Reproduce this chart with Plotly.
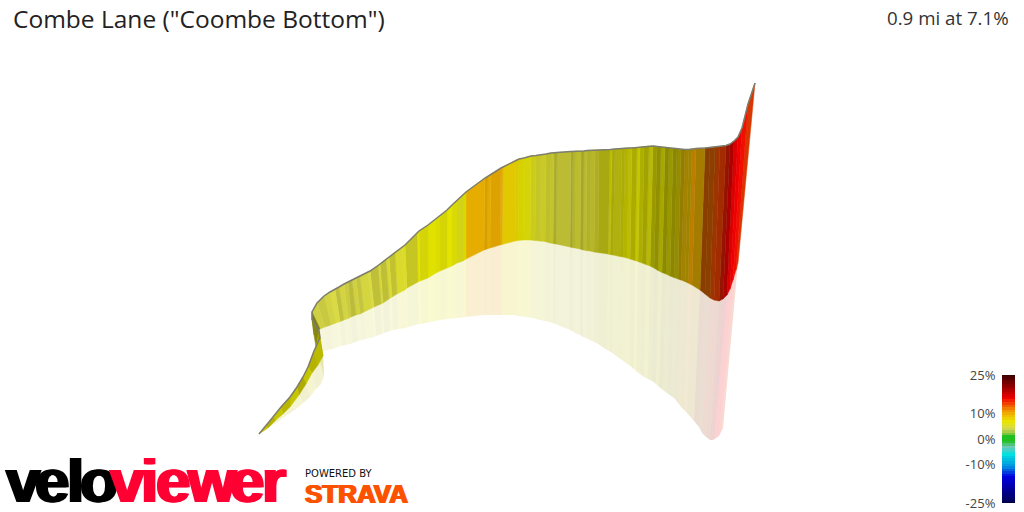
import numpy as np
import plotly.graph_objects as go

title_text = 'Combe Lane ("Coombe Bottom")'
stats_text = "0.9 mi at 7.1%"

# ribbon stations: road edge, foot of the wall, foot of the reflection
top_x = [259, 266, 273, 281, 290, 297, 303, 308, 314, 320, 319, 312,
         312, 317, 324, 330, 335, 339, 344, 348, 352, 356, 360, 368, 370, 378, 380, 386, 389, 395, 402, 405, 417, 419, 428, 436, 440, 447, 452, 457, 463, 466, 485, 488, 491, 501, 503, 516, 519, 524, 531, 536, 541, 546, 551, 554, 557, 571, 573, 576, 581, 584, 587, 591, 595, 599, 610, 612, 615, 622, 625, 629, 632, 637, 640, 644, 649, 653, 657, 661, 665, 669, 673, 677, 681, 685, 689, 692, 696, 705, 710, 715, 720, 726, 730, 734, 738, 742, 748, 755]
top_y = [434, 426, 417, 407, 397, 387, 377, 367, 351, 338, 331, 319,
         312, 303, 296, 292, 289.5, 287, 284, 282, 280, 278, 276, 272, 271, 265.5, 264, 259, 257, 252, 247, 245, 233, 231, 225, 219, 216, 210, 205, 200, 195, 192, 178, 176, 174, 168, 167, 160, 159, 158, 156, 155.5, 155, 154, 153, 153, 152.5, 151.5, 151.5, 151, 151, 151, 150.5, 150.5, 150, 150, 149.5, 149.5, 149, 148.5, 148, 148, 148, 147.5, 147, 146.5, 146, 146, 146.5, 147, 147.5, 148, 148.5, 149, 149.5, 149.5, 149.5, 149, 148.5, 148, 147.5, 147, 146.5, 145.5, 144, 141, 137, 128, 104, 83]
base_x = [259, 268, 276, 283, 290, 299, 306, 312, 318, 323, 316, 314,
          320, 325, 331, 336, 340, 344, 348, 351, 356, 360, 364, 372, 374, 381, 383, 389, 392, 397, 405, 407, 418, 420, 428, 436, 440, 447, 452, 457, 463, 466, 484, 487, 490, 500, 502, 515, 518, 523, 530, 535, 540, 545, 550, 553, 556, 570, 572, 575, 580, 583, 586, 590, 594, 598, 608, 610, 613, 620, 623, 627, 630, 635, 638, 642, 646, 650, 654, 658, 662, 666, 670, 674, 678, 681, 685, 688, 692, 700, 705, 710, 714, 719, 723, 727, 730, 733, 736, 738]
base_y = [434, 428, 420, 414, 407, 395, 384, 373, 365, 356, 347, 335,
          329, 327, 325, 323, 321.5, 320, 318.5, 317, 315, 314, 312, 308, 307, 304, 303, 299, 297, 294, 290, 288, 282, 281, 278, 273, 271, 268, 266, 263, 261, 259, 250, 249, 248, 245, 244.5, 241, 240.5, 240, 240, 240.5, 241, 241.5, 243, 243.5, 244, 247, 247.5, 248, 249, 250, 250.5, 251, 252, 252.5, 254, 254.5, 255, 256.5, 257, 258, 259, 260.5, 261.5, 263, 264.5, 266, 268, 270.5, 272.5, 274, 276, 277.5, 279, 280, 281.5, 283, 285, 290, 294, 298, 300, 301, 299, 295, 289, 280, 270, 263]
low_x = [259, 268, 279, 287, 296, 303, 310, 316, 321, 324, 316, 314,
         322, 327, 333, 338, 342, 346, 350, 353, 358, 362, 366, 374, 376, 382, 384, 390, 393, 398, 406, 408, 419, 421, 428, 436, 440, 447, 452, 457, 463, 466, 484, 487, 490, 500, 502, 515, 518, 523, 530, 535, 540, 545, 550, 553, 555, 570, 572, 575, 580, 583, 586, 590, 594, 598, 607, 609, 612, 619, 622, 626, 629, 634, 636, 640, 644, 648, 652, 656, 659, 663, 667, 671, 675, 678, 681, 684, 687, 694, 699, 702, 706, 710, 712, 714, 716, 719, 721, 723]
low_y = [434, 428, 421, 415, 409, 403, 397, 389, 384, 376, 347, 335,
         352, 350, 349, 347, 346, 345, 344, 343, 341, 340, 339, 337, 336, 334, 333, 331, 330, 329, 328, 327, 324, 324, 322.5, 321, 320, 319, 318.5, 318, 317.5, 317, 315, 315, 315, 315, 315, 315, 316, 316.5, 317.5, 318.5, 320, 321, 322, 323, 324, 330, 331, 333, 335, 337, 338, 340, 342, 344, 350, 351, 353, 358, 360, 363, 365, 369, 371, 374, 377, 379, 381, 384, 387, 390, 393, 396, 399, 403, 407, 410, 413, 421, 427, 433, 437, 440, 440, 439.5, 438, 436, 432, 428]

# gradient (%) and light level of each wall slice, one per gap between stations
grade = [7, 7, 6.8, 7, 6.8, 7, 6.8, 7, 6.8, 6.8, 6, 6,
         4.5, 4.5, 4.6, 4.6, 4.6, 4.6, 4.6, 4.6, 4.6, 4.6, 4.7, 4.7, 4.7, 4.8, 4.8, 5, 5, 5.3, 5.5, 5.5, 6.5, 6.5, 6.8, 6.8, 6.6, 6.8, 6.6, 6, 7, 9.6, 9.8, 9.6, 9.8, 9.6, 8, 7.6, 7, 6.5, 5.8, 5.4, 5.4, 5.2, 5.2, 5, 4.8, 4.8, 5, 5, 5, 5, 5.2, 5.2, 5.4, 6, 6.8, 6.2, 6.2, 6.6, 6.8, 6.6, 6.8, 6.8, 6.8, 6.8, 6.6, 6.8, 6.8, 6.8, 6.8, 7, 7.2, 7.5, 8.5, 9, 8.5, 10.5, 9.5, 12.5, 12.5, 13.5, 14, 15, 16, 16, 16, 15.5, 14, 13.5]
light = [.85, .78, .85, .8, .85, .75, .85, .78, .8, .7, .6, .55,
         .95, .92, .97, 1, .88, .97, .93, .86, .95, .9, .97, 1, .87, .98, .87, .98, .88, .98, .98, .88, .98, .92, .97, .95, .92, .98, .94, .93, .94, .96, .9, .95, .92, .95, .95, .93, .92, .92, .9, .88, .9, .86, .88, .78, .85, .75, .82, .85, .75, .84, .8, .82, .78, .74, .82, .74, .77, .75, .78, .82, .74, .85, .75, .7, .8, .66, .62, .72, .6, .66, .6, .64, .62, .68, .66, .78, .68, .57, .58, .66, .68, .62, .72, .92, 1, 1, .9, .85]

# colour bar
scale_grades = [-25, -23.7, -14.6, -10.7, -6, -3, -0.7, 1.3, 2.2, 4.2, 6.8, 9, 11.4, 16, 23, 25]
scale_colors = ["#000040", "#000060", "#0000e0", "#0090e0", "#00e0e0", "#70c8b8", "#20c020", "#20c020", "#90c848",
                "#d8d850", "#e8e800", "#f0c000", "#f09000", "#f00000", "#600000", "#3a0000"]
bar_levels = list(range(-25, 26))
bar_ticks = [-25, -10, 0, 10, 25]
bar_tick_labels = ["-25%", "-10%", "0%", "10%", "25%"]

# logo
logo_letters = list("veloviewer")
logo_centers = [23, 51.5, 75, 99, 127, 149, 172.5, 211.5, 247, 274]
logo_colors = ["#000000"] * 4 + ["#ff0033"] * 6


def scale_rgb(g):
    rgb = [[int(c[i:i + 2], 16) for c in scale_colors] for i in (1, 3, 5)]
    return [float(np.interp(g, scale_grades, ch)) for ch in rgb]


def slice_poly(x_a, y_a, x_b, y_b, i):
    return [x_a[i], x_a[i + 1], x_b[i + 1], x_b[i], x_a[i]], [y_a[i], y_a[i + 1], y_b[i + 1], y_b[i], y_a[i]]


n_slices = min(len(top_x) - 1, len(grade), len(light))
slices = list(range(n_slices))

fig = go.Figure()

# far end first so the near part of the road sits on top
for i in reversed(slices):
    r, g, b = [c * light[i] for c in scale_rgb(grade[i])]
    xs, ys = slice_poly(base_x, base_y, low_x, low_y, i)
    fig.add_trace(go.Scatter(x=xs, y=ys, mode="lines", line=dict(width=0), fill="toself",
                             fillcolor=f"rgba({r:.0f},{g:.0f},{b:.0f},0.18)", hoverinfo="skip", showlegend=False))
for i in reversed(slices):
    r, g, b = [c * light[i] for c in scale_rgb(grade[i])]
    color = f"rgb({r:.0f},{g:.0f},{b:.0f})"
    xs, ys = slice_poly(top_x, top_y, base_x, base_y, i)
    fig.add_trace(go.Scatter(x=xs, y=ys, mode="lines", line=dict(width=0.5, color=color), fill="toself",
                             fillcolor=color, hoverinfo="skip", showlegend=False))

fig.add_trace(go.Scatter(x=top_x, y=top_y, mode="lines", line=dict(width=1.5, color="#7d7d70"),
                         hoverinfo="skip", showlegend=False))

colorscale = [[(g + 25) / 50, c] for g, c in zip(scale_grades, scale_colors)]
fig.add_trace(go.Heatmap(x=[0], y=bar_levels, z=[[v] for v in bar_levels], xaxis="x2", yaxis="y2",
                         colorscale=colorscale, zmin=-25, zmax=25, showscale=False, hoverinfo="skip"))

annotations = [
    dict(x=11, y=18, text=title_text, xanchor="left", yanchor="middle",
         font=dict(family="Open Sans", size=24.5, color="#222222")),
    dict(x=1011, y=17, text=stats_text, xanchor="right", yanchor="middle",
         font=dict(family="Open Sans", size=18.7, color="#333333")),
    dict(x=303, y=473, text="POWERED BY", xanchor="left", yanchor="middle",
         font=dict(family="DejaVu Sans", size=10, color="#111111")),
    dict(x=356.5, y=494, text="STRAVA", xanchor="center", yanchor="middle",
         font=dict(family="Liberation Sans", size=26, weight="bold", color="#fc5200",
                   shadow="1px 0 0 #fc5200,-1px 0 0 #fc5200")),
]
for letter, center, color in zip(logo_letters, logo_centers, logo_colors):
    annotations.append(dict(x=center, y=480, text=letter, xanchor="center", yanchor="middle",
                            font=dict(family="Liberation Sans", size=62, weight="bold", color=color,
                                      shadow=f"1.5px 0 0 {color},-1.5px 0 0 {color}")))
for a in annotations:
    a.update(xref="x", yref="y", showarrow=False)

fig.update_layout(
    width=1024, height=512,
    margin=dict(l=0, r=0, t=0, b=0, autoexpand=False),
    paper_bgcolor="white", plot_bgcolor="white",
    showlegend=False,
    annotations=annotations,
    xaxis=dict(range=[0, 1024], visible=False, domain=[0, 1]),
    yaxis=dict(range=[512, 0], visible=False, domain=[0, 1]),
    xaxis2=dict(domain=[1002 / 1024, 1015 / 1024], anchor="y2", visible=False, range=[-0.5, 0.5]),
    yaxis2=dict(domain=[9 / 512, 137 / 512], anchor="x2", range=[-25, 25], tickvals=bar_ticks,
                ticktext=bar_tick_labels, showgrid=False, zeroline=False, showline=False,
                ticks="outside", ticklen=3, tickcolor="rgba(0,0,0,0)",
                tickfont=dict(family="Open Sans", size=13, color="#444444")),
)
fig.write_html("out.html", config={"displayModeBar": False}, post_script="document.body.style.margin='0';")
